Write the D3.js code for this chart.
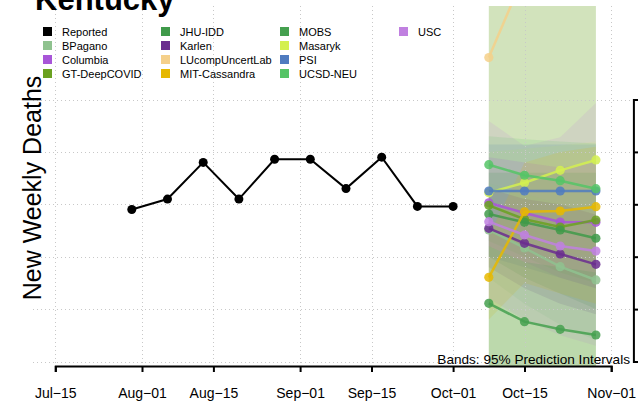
<!DOCTYPE html>
<html><head><meta charset="utf-8">
<script src="https://cdn.jsdelivr.net/npm/d3@7/dist/d3.min.js"></script>
<style>body{margin:0;background:#fff}svg{display:block;font-family:"Liberation Sans",Arial,sans-serif}</style>
</head><body>
<svg id="c" width="638" height="411"></svg>
<script>
// ---- data ----
const reportedDates = ["2022-07-30","2022-08-06","2022-08-13","2022-08-20","2022-08-27","2022-09-03","2022-09-10","2022-09-17","2022-09-24","2022-10-01"];
const reportedValues = [145, 155, 190, 155, 193, 193, 165, 195, 148, 148];
const forecastDates = ["2022-10-08","2022-10-15","2022-10-22","2022-10-29"];
const models = ["BPagano","Columbia","GT-DeepCOVID","JHU-IDD","Karlen","LUcompUncertLab","MIT-Cassandra","MOBS","Masaryk","PSI","UCSD-NEU","USC"];
const modelColors = ["#8fc28f","#a855d8","#6aa121","#3f9a4a","#6a2d8f","#f5d08a","#e6b800","#45a04f","#d4f050","#4f7bbf","#55c466","#c080e0"];
const pointValues = {
  "BPagano":        [125.5, 108.3, 90.5, 77.8],
  "Columbia":       [151.5, 141.7, 133.1, 132.8],
  "GT-DeepCOVID":   [149.0, 135.7, 128.3, 135.0],
  "JHU-IDD":        [140.7, 132.8, 125.5, 117.6],
  "Karlen":         [127.1, 112.8, 102.6, 92.7],
  "LUcompUncertLab":[290.0, 370.0, 420.0, 460.0],
  "MIT-Cassandra":  [80.3, 142.9, 143.6, 147.7],
  "MOBS":           [55.5, 38.0, 30.7, 25.3],
  "Masaryk":        [161.1, 170.6, 182.4, 192.3],
  "PSI":            [162.7, 162.7, 162.7, 162.7],
  "UCSD-NEU":       [187.8, 177.7, 172.5, 164.9],
  "USC":            [133.4, 120.7, 110.2, 105.4]
};
const lower95 = {
  "GT-DeepCOVID":   [-20, -20, -20, -20],
  "USC":            [60, 40, 25, 15],
  "PSI":            [100, 90, 80, 70],
  "Masaryk":        [120, 110, 105, 100],
  "UCSD-NEU":       [115, 100, 85, 75],
  "Columbia":       [110, 95, 80, 70],
  "JHU-IDD":        [100, 80, 65, 50],
  "Karlen":         [90, 70, 55, 45],
  "BPagano":        [80, 55, 35, 20],
  "MIT-Cassandra":  [40, 75, 65, 55],
  "MOBS":           [-10, -20, -25, -30]
};
const upper95 = {
  "GT-DeepCOVID":   [450, 450, 450, 450],
  "USC":            [229.5, 205.6, 214, 246.7],
  "PSI":            [207, 207, 207, 207],
  "Masaryk":        [200, 203, 206, 210],
  "UCSD-NEU":       [215, 212, 210, 208],
  "Columbia":       [195, 190, 185, 190],
  "JHU-IDD":        [180, 180, 180, 180],
  "Karlen":         [165, 155, 150, 140],
  "BPagano":        [170, 160, 150, 140],
  "MIT-Cassandra":  [120, 190, 200, 205],
  "MOBS":           [110, 95, 90, 85]
};
const xTickDates = ["2022-07-15","2022-08-01","2022-08-15","2022-09-01","2022-09-15","2022-10-01","2022-10-15","2022-11-01"];
const xTickLabels = ["Jul\u221215","Aug\u221201","Aug\u221215","Sep\u221201","Sep\u221215","Oct\u221201","Oct\u221215","Nov\u221201"];
const yTicks = [0, 50, 100, 150, 200, 250];

// ---- scales ----
const P = d3.utcParse("%Y-%m-%d");
const plot = {l: 33, r: 633.4, t: 6, b: 367};
const x = d3.scaleUtc().domain([P("2022-07-15"), P("2022-11-01")]).range([55.3, 611.2]);
const y = d3.scaleLinear().domain([0, 250]).range([361.5, 99.5]);

const svg = d3.select("#c");
svg.append("defs").append("clipPath").attr("id","clip")
  .append("rect").attr("x",plot.l).attr("y",plot.t).attr("width",plot.r-plot.l).attr("height",plot.b-plot.t);

const fd = forecastDates.map(P);
const bandG = svg.append("g").attr("clip-path","url(#clip)");
const bandOrder = ["GT-DeepCOVID","USC","PSI","Masaryk","UCSD-NEU","Columbia","JHU-IDD","Karlen","BPagano","MIT-Cassandra","MOBS"];
const area = d3.area().x((d,i)=>x(fd[i])).y0(d=>y(d[0])).y1(d=>y(d[1]));
bandOrder.forEach(m=>{
  const c = modelColors[models.indexOf(m)];
  const pts = lower95[m].map((lo,i)=>[lo, upper95[m][i]]);
  bandG.append("path").attr("d", area(pts)).attr("fill", c)
    .attr("fill-opacity", m==="GT-DeepCOVID" ? 0.3 : (m==="Masaryk" ? 0.1 : 0.15));
});

// grid
const grid = svg.append("g").attr("stroke","#c8c8c8").attr("stroke-width",1).attr("stroke-dasharray","1,3");
yTicks.forEach(v=>grid.append("line").attr("x1",plot.l).attr("x2",plot.r).attr("y1",Math.round(y(v))+0.5).attr("y2",Math.round(y(v))+0.5));
xTickDates.forEach(d=>grid.append("line").attr("x1",Math.round(x(P(d)))+0.5).attr("x2",Math.round(x(P(d)))+0.5).attr("y1",plot.t).attr("y2",plot.b-1));

// forecast lines
const lineG = svg.append("g").attr("clip-path","url(#clip)");
const line = d3.line().x((d,i)=>x(fd[i])).y(d=>y(d));
models.forEach((m,k)=>{
  const c = modelColors[k];
  lineG.append("path").attr("d", line(pointValues[m])).attr("fill","none").attr("stroke",c).attr("stroke-width",2.5).attr("stroke-opacity",0.85);
  lineG.selectAll(null).data(pointValues[m]).enter().append("circle")
    .attr("cx",(d,i)=>x(fd[i])).attr("cy",d=>y(d)).attr("r",4.6).attr("fill",c).attr("fill-opacity",0.85);
});

// reported
const rd = reportedDates.map(P);
svg.append("path").attr("d", d3.line().x((d,i)=>x(rd[i])).y(d=>y(d))(reportedValues))
  .attr("fill","none").attr("stroke","#000").attr("stroke-width",2);
svg.selectAll(null).data(reportedValues).enter().append("circle")
  .attr("cx",(d,i)=>x(rd[i])).attr("cy",d=>y(d)).attr("r",4.5).attr("fill","#000");

// x axis
const xAxis = d3.axisBottom(x).tickValues(xTickDates.map(P)).tickFormat((d,i)=>xTickLabels[i]).tickSize(6).tickPadding(16);
const xg = svg.append("g").attr("transform","translate(0,366)").call(xAxis);
xg.select(".domain").attr("stroke-width",2);
xg.selectAll(".tick line").attr("stroke-width",2);
xg.selectAll("text").attr("font-size",14).attr("fill","#000").attr("font-family","Liberation Sans, Arial, sans-serif");

// y axis (right) - its labels fall outside the picture, as in the reference
const yAxis = d3.axisRight(y).tickValues(yTicks).tickSize(7).tickFormat("");
const yg = svg.append("g").attr("transform","translate(633.4,0)").call(yAxis);
yg.select(".domain").attr("stroke-width",2);
yg.selectAll(".tick line").attr("stroke-width",2);

// y label
svg.append("text").attr("transform","translate(41,188) rotate(-90)").attr("text-anchor","middle")
  .attr("font-size",25).text("New Weekly Deaths");

// title
svg.append("text").attr("x",35).attr("y",10).attr("font-size",31).attr("font-weight","bold").text("Kentucky");

// bands note
svg.append("text").attr("x",630).attr("y",364).attr("text-anchor","end").attr("font-size",13.6).text("Bands: 95% Prediction Intervals");

// legend
const legNames = ["Reported"].concat(models);
const legColors = ["#000"].concat(modelColors);
const colX = [43, 161, 280, 399];
const rowY = [31.5, 45.5, 59.5, 73.5];
legNames.forEach((n,i)=>{
  const cx = colX[Math.floor(i/4)], cy = rowY[i%4];
  svg.append("rect").attr("x",cx).attr("y",cy-4.5).attr("width",9).attr("height",9).attr("fill",legColors[i]);
  svg.append("text").attr("x",cx+19).attr("y",cy+4).attr("font-size",11).text(n);
});
</script>
</body></html>
